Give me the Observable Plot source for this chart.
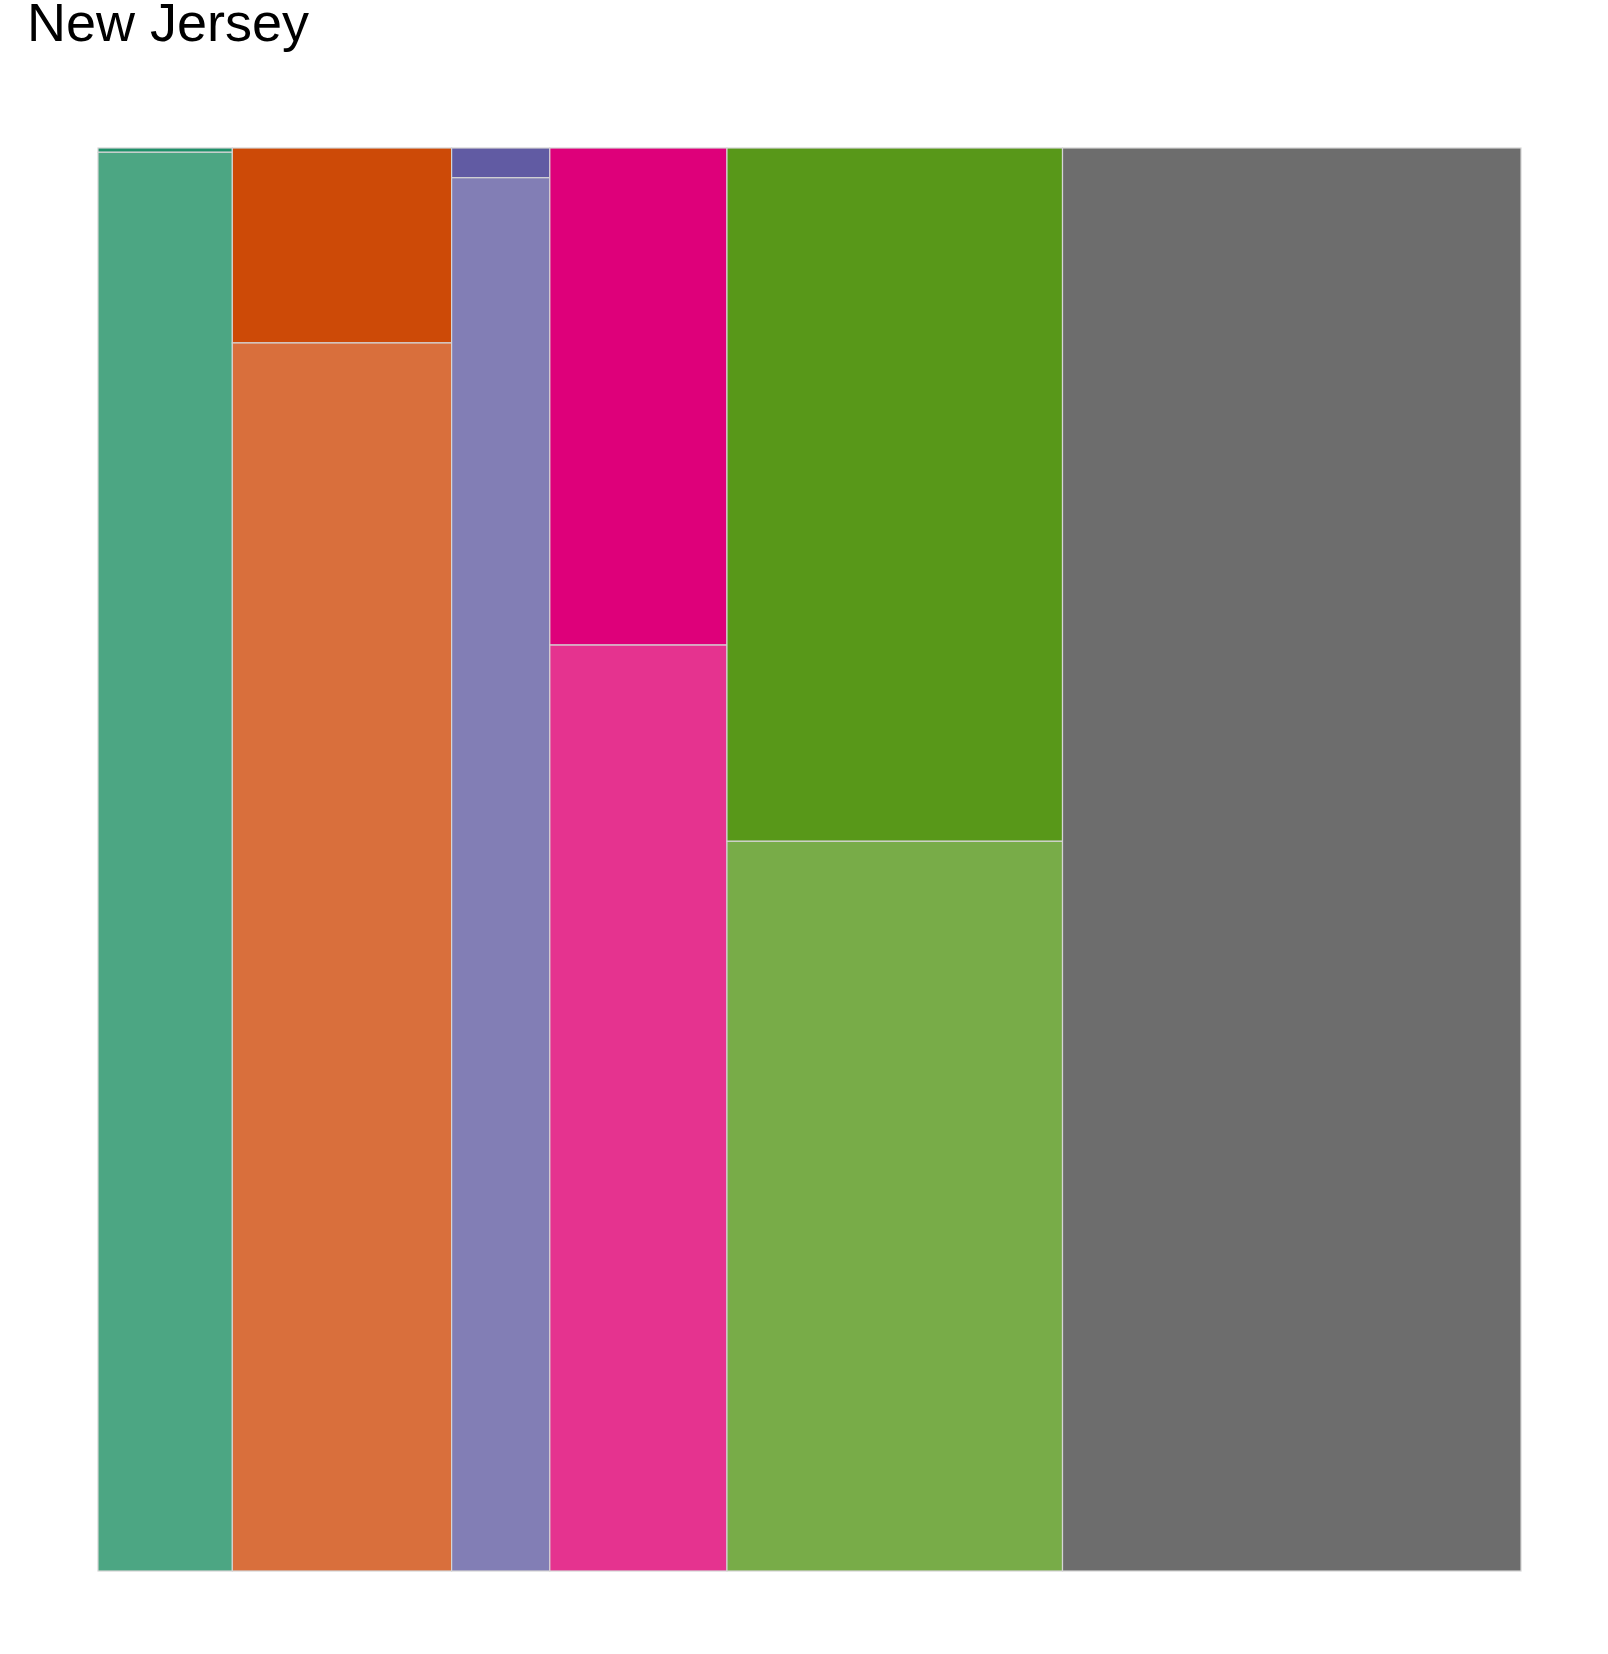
<!DOCTYPE html>
<html>
<head>
<meta charset="utf-8">
<script src="https://cdn.jsdelivr.net/npm/d3@7"></script>
<script src="https://cdn.jsdelivr.net/npm/@observablehq/plot@0.6"></script>
<style>
  body { margin: 0; background: #fff; }
  #wrap { position: relative; width: 1608px; height: 1654px; }
  #title { position: absolute; left: 27px; top: -5px; font-family: "Liberation Sans", Arial, sans-serif; font-size: 54px; line-height: 54px; color: #000; white-space: nowrap; }
  #chart { position: absolute; left: 0; top: 0; }
</style>
</head>
<body>
<div id="wrap">
  <div id="chart"></div>
  <div id="title">New Jersey</div>
</div>
<script>
// Mosaic columns (share of total width, %)
const categories = ["A", "B", "C", "D", "E", "F"];
const columnShare = [9.44, 15.41, 6.90, 12.45, 23.58, 32.22];
// Share of each column taken by the upper segment, %
const topShare = [0.30, 13.70, 2.09, 34.93, 48.72, 0];
const topColors = ["#1f9069", "#cd4a07", "#615ba3", "#de007a", "#589819", "#6d6d6d"];
const bottomColors = ["#4ca683", "#d96f3c", "#827eb5", "#e5338f", "#78ac48", "#6d6d6d"];

const rows = [];
let cum = 0;
categories.forEach((c, i) => {
  const x1 = cum, x2 = cum + columnShare[i];
  cum = x2;
  if (topShare[i] > 0) rows.push({category: c, part: "upper", x1, x2, y1: 0, y2: topShare[i], color: topColors[i]});
  rows.push({category: c, part: "lower", x1, x2, y1: topShare[i], y2: 100, color: bottomColors[i]});
});

const chart = Plot.plot({
  width: 1608,
  height: 1654,
  marginLeft: 98,
  marginRight: 87,
  marginTop: 148,
  marginBottom: 83,
  x: {domain: [0, d3.sum(columnShare)], axis: null},
  y: {domain: [0, 100], reverse: true, axis: null},
  color: {type: "identity"},
  marks: [
    Plot.rect(rows, {x1: "x1", x2: "x2", y1: "y1", y2: "y2", fill: "color", stroke: "#d4d4d4", strokeWidth: 1.2})
  ]
});
document.getElementById("chart").appendChild(chart);
</script>
</body>
</html>
